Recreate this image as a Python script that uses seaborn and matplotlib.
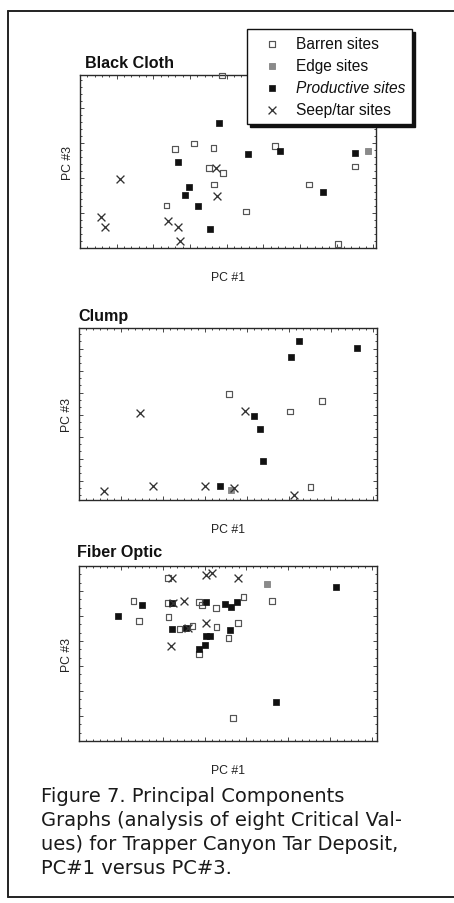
import matplotlib
matplotlib.use("Agg")
import matplotlib.pyplot as plt
from matplotlib.lines import Line2D
from matplotlib.ticker import MultipleLocator, NullFormatter
import seaborn as sns

sns.set_theme(style="white")
plt.rcParams["font.family"] = ["Liberation Sans", "DejaVu Sans"]

CATEGORIES = ["Barren sites", "Edge sites", "Productive sites", "Seep/tar sites"]

# ---- Black Cloth (PC #1, PC #3) ----
bc_barren_pc1 = [3.87, 2.59, 3.11, 3.64, 3.51, 3.90, 3.65, 2.36, 4.52, 5.31, 6.25, 7.50, 7.04]
bc_barren_pc3 = [4.93, 2.83, 2.98, 2.86, 2.29, 2.14, 1.81, 1.21, 1.04, 2.92, 1.81, 2.33, 0.11]
bc_edge_pc1 = [7.85]
bc_edge_pc3 = [2.78]
bc_prod_pc1 = [3.80, 2.68, 4.59, 5.45, 7.51, 2.97, 2.85, 3.21, 6.63, 3.55]
bc_prod_pc3 = [3.57, 2.45, 2.67, 2.78, 2.71, 1.73, 1.52, 1.19, 1.59, 0.54]
bc_seep_pc1 = [1.09, 3.72, 3.73, 0.58, 0.68, 2.39, 2.68, 2.72]
bc_seep_pc3 = [1.97, 2.29, 1.49, 0.89, 0.61, 0.76, 0.59, 0.21]

# ---- Clump ----
cl_barren_pc1 = [3.58, 5.03, 5.79, 5.52]
cl_barren_pc3 = [4.83, 4.03, 4.49, 0.58]
cl_edge_pc1 = [3.61]
cl_edge_pc3 = [0.47]
cl_prod_pc1 = [5.25, 5.04, 6.63, 4.17, 4.31, 4.39, 3.35]
cl_prod_pc3 = [7.21, 6.52, 6.91, 3.82, 3.21, 1.77, 0.62]
cl_seep_pc1 = [1.46, 3.96, 0.59, 1.77, 3.00, 3.70, 5.13]
cl_seep_pc3 = [3.97, 4.03, 0.39, 0.64, 0.64, 0.56, 0.21]

# ---- Fiber Optic ----
fo_barren_pc1 = [2.13, 1.30, 1.43, 2.14, 2.13, 2.87, 2.94, 3.27, 3.93, 4.61,
                 3.80, 2.40, 2.71, 3.29, 3.57, 2.87, 3.68]
fo_barren_pc3 = [6.51, 5.61, 4.80, 4.97, 5.51, 5.55, 5.44, 5.32, 5.77, 5.59,
                 4.71, 4.49, 4.60, 4.55, 4.12, 3.48, 0.91]
fo_edge_pc1 = [4.48]
fo_edge_pc3 = [6.28]
fo_prod_pc1 = [0.94, 1.51, 2.22, 3.03, 3.48, 3.64, 3.78, 6.14, 2.22, 2.56,
               3.03, 3.13, 3.60, 2.87, 3.02, 4.71]
fo_prod_pc3 = [5.01, 5.45, 5.51, 5.55, 5.48, 5.35, 5.55, 6.15, 4.49, 4.51,
               4.21, 4.21, 4.43, 3.68, 3.84, 1.55]
fo_seep_pc1 = [2.22, 3.04, 3.18, 3.81, 2.24, 2.52, 3.03, 2.60, 2.20]
fo_seep_pc3 = [6.52, 6.65, 6.72, 6.52, 5.51, 5.61, 4.71, 4.52, 3.79]

PANEL_TITLES = ["Black Cloth", "Clump", "Fiber Optic"]
CAPTION_LINES = [
    "Figure 7. Principal Components",
    "Graphs (analysis of eight Critical Val-",
    "ues) for Trapper Canyon Tar Deposit,",
    "PC#1 versus PC#3.",
]

panels = [
    {"title": PANEL_TITLES[0],
     "series": [(bc_barren_pc1, bc_barren_pc3), (bc_edge_pc1, bc_edge_pc3),
                (bc_prod_pc1, bc_prod_pc3), (bc_seep_pc1, bc_seep_pc3)],
     "xlim": (0, 8.07), "ylim": (0, 4.94), "xminor": 1 / 5, "yminor": 1 / 5,
     "yoff": 0.0, "box": (80, 76, 376, 249), "title_xy": (85, 63)},
    {"title": PANEL_TITLES[1],
     "series": [(cl_barren_pc1, cl_barren_pc3), (cl_edge_pc1, cl_edge_pc3),
                (cl_prod_pc1, cl_prod_pc3), (cl_seep_pc1, cl_seep_pc3)],
     "xlim": (0, 7.1), "ylim": (0, 7.82), "xminor": 1 / 6, "yminor": 1 / 3,
     "yoff": 0.88, "box": (79, 329, 377, 501), "title_xy": (78, 316)},
    {"title": PANEL_TITLES[2],
     "series": [(fo_barren_pc1, fo_barren_pc3), (fo_edge_pc1, fo_edge_pc3),
                (fo_prod_pc1, fo_prod_pc3), (fo_seep_pc1, fo_seep_pc3)],
     "xlim": (0, 7.12), "ylim": (0, 7.0), "xminor": 1 / 6, "yminor": 1 / 3,
     "yoff": 0.0, "box": (79, 567, 377, 742), "title_xy": (77, 553)},
]

styles = [
    dict(marker="s", s=16, facecolor="none", edgecolor="#555555", linewidth=0.85),
    dict(marker="s", s=13, facecolor="#8a8a8a", edgecolor="#777777", linewidth=0.5),
    dict(marker="s", s=16, facecolor="#111111", edgecolor="#111111", linewidth=0.5),
    dict(marker="x", s=32, color="#333333", linewidth=0.95),
]

W, H = 454, 904
fig = plt.figure(figsize=(W / 100, H / 100), dpi=100)
fig.patch.set_facecolor("white")

ink = "#2a2a2a"
legend_handles = None

for p in panels:
    l, t, r, b = p["box"]
    ax = fig.add_axes([l / W, 1 - b / H, (r - l) / W, (b - t) / H])
    for (xs, ys), st, cat in zip(p["series"], styles, CATEGORIES):
        sns.scatterplot(x=xs, y=ys, ax=ax, label=cat, clip_on=False, zorder=3, **st)
    if legend_handles is None:
        legend_handles = ax.collections[:]
    ax.get_legend().remove()
    ax.set_xlim(*p["xlim"])
    ax.set_ylim(*p["ylim"])
    ax.xaxis.set_major_locator(MultipleLocator(1))
    ax.xaxis.set_minor_locator(MultipleLocator(p["xminor"]))
    ax.yaxis.set_major_locator(MultipleLocator(1, offset=p["yoff"]))
    ax.yaxis.set_minor_locator(MultipleLocator(p["yminor"], offset=p["yoff"] % p["yminor"]))
    ax.xaxis.set_major_formatter(NullFormatter())
    ax.yaxis.set_major_formatter(NullFormatter())
    ax.tick_params(which="both", direction="in", top=True, right=True,
                   bottom=True, left=True, color=ink, width=0.6)
    ax.tick_params(which="major", length=3.2)
    ax.tick_params(which="minor", length=1.7)
    for sp in ax.spines.values():
        sp.set_color(ink)
        sp.set_linewidth(1.0)
    ax.set_xlabel("PC #1", fontsize=8.8, color="#222222")
    ax.xaxis.set_label_coords(0.5, -23 / (b - t))
    ax.set_ylabel("PC #3", fontsize=8.8, color="#222222")
    ax.yaxis.set_label_coords(-6 / (r - l), 0.5)
    tx, ty = p["title_xy"]
    fig.text(tx / W, 1 - ty / H, p["title"], fontsize=11.6, fontweight="bold",
             ha="left", va="center", color="#111111")

leg = fig.legend(legend_handles, CATEGORIES, loc="upper left",
                 bbox_to_anchor=(247 / W, 1 - 30 / H), bbox_transform=fig.transFigure,
                 borderaxespad=0, borderpad=0.45, handlelength=2.3,
                 handletextpad=0.38, labelspacing=0.45, fontsize=11.2,
                 fancybox=False, framealpha=1, edgecolor="#111111",
                 shadow={"color": "#111111", "alpha": 1}, scatterpoints=1)
leg.get_frame().set_linewidth(1.0)
for txt in leg.get_texts():
    txt.set_color("#111111")
leg.get_texts()[2].set_style("italic")

# caption
for i, line in enumerate(CAPTION_LINES):
    fig.text(41 / W, 1 - (797 + i * 23.7) / H, line, fontsize=14,
             family=["DejaVu Sans"], ha="left", va="center", color="#1a1a1a")

# page frame
frame_kw = dict(transform=fig.transFigure, color="#222222", linewidth=1.4)
fig.add_artist(Line2D([8 / W, 1], [1 - 12 / H, 1 - 12 / H], **frame_kw))
fig.add_artist(Line2D([8 / W, 8 / W], [1 - 12 / H, 1 - 898 / H], **frame_kw))
fig.add_artist(Line2D([8 / W, 1], [1 - 898 / H, 1 - 898 / H], **frame_kw))

fig.savefig("out.png", dpi=100)
